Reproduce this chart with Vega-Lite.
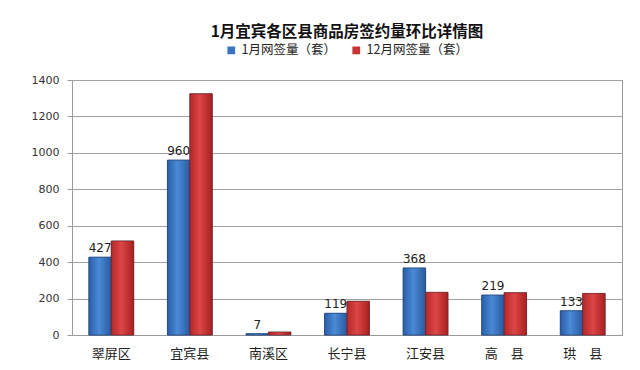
{
  "$schema": "https://vega.github.io/schema/vega-lite/v6.json",
  "width": 550,
  "height": 255,
  "autosize": {"type": "none"},
  "padding": {"left": 72, "top": 80, "right": 18, "bottom": 35},
  "background": "white",
  "title": {"text": "1月宜宾各区县商品房签约量环比详情图", "fontSize": 15.5, "fontWeight": "bold", "font": "Noto Sans CJK SC", "color": "#111111", "anchor": "middle", "offset": 4},
  "config": {
    "view": {"stroke": "#9a9a9a", "strokeWidth": 1},
    "font": "Noto Sans CJK SC"
  },
  "data": {"values": [
    {"区县": "翠屏区", "系列": "1月网签量（套）", "值": 427},
    {"区县": "翠屏区", "系列": "12月网签量（套）", "值": 516},
    {"区县": "宜宾县", "系列": "1月网签量（套）", "值": 960},
    {"区县": "宜宾县", "系列": "12月网签量（套）", "值": 1324},
    {"区县": "南溪区", "系列": "1月网签量（套）", "值": 7},
    {"区县": "南溪区", "系列": "12月网签量（套）", "值": 16},
    {"区县": "长宁县", "系列": "1月网签量（套）", "值": 119},
    {"区县": "长宁县", "系列": "12月网签量（套）", "值": 185},
    {"区县": "江安县", "系列": "1月网签量（套）", "值": 368},
    {"区县": "江安县", "系列": "12月网签量（套）", "值": 234},
    {"区县": "高　县", "系列": "1月网签量（套）", "值": 219},
    {"区县": "高　县", "系列": "12月网签量（套）", "值": 232},
    {"区县": "珙　县", "系列": "1月网签量（套）", "值": 133},
    {"区县": "珙　县", "系列": "12月网签量（套）", "值": 228}
  ]},
  "encoding": {
    "x": {"field": "区县", "type": "nominal", "sort": null,
      "scale": {"paddingInner": 0.43, "paddingOuter": 0.215},
      "axis": {"title": null, "labelAngle": 0, "labelFontSize": 13, "labelColor": "#222222", "labelPadding": 12, "ticks": false, "domainColor": "#9a9a9a"}},
    "y": {"field": "值", "type": "quantitative",
      "scale": {"domain": [0, 1400]},
      "axis": {"title": null, "format": "d", "values": [0,200,400,600,800,1000,1200,1400], "labelFontSize": 11, "labelColor": "#333333", "labelPadding": 8, "gridColor": "#a0a0a0", "domainColor": "#9a9a9a", "tickColor": "#9a9a9a", "tickSize": 5, "labelFont": "DejaVu Sans"}},
    "xOffset": {"field": "系列", "type": "nominal", "sort": ["1月网签量（套）", "12月网签量（套）"]}
  },
  "layer": [
    {
      "mark": {"type": "bar", "stroke": "#1d3f73", "strokeWidth": 0.6},
      "encoding": {
        "color": {"field": "系列", "type": "nominal", "sort": ["1月网签量（套）", "12月网签量（套）"],
          "scale": {"domain": ["1月网签量（套）", "12月网签量（套）"], "range": ["#3a74c4", "#cc3535"]},
          "legend": {"title": null, "orient": "none", "direction": "horizontal", "legendX": 153, "legendY": -36, "symbolType": "square", "symbolSize": 60, "labelFontSize": 12.5, "labelColor": "#222222", "columnPadding": 14, "symbolStrokeWidth": 0}}
      }
    },
    {
      "transform": [{"filter": "datum['系列'] === '1月网签量（套）'"}],
      "mark": {"type": "bar", "stroke": "#1c3f78", "strokeWidth": 0.6,
        "fill": {"gradient": "linear", "x1": 0, "y1": 0, "x2": 1, "y2": 0, "stops": [
          {"offset": 0, "color": "#2a5ea8"}, {"offset": 0.45, "color": "#4a8ad6"}, {"offset": 1, "color": "#2a5aa0"}]}}
    },
    {
      "transform": [{"filter": "datum['系列'] === '12月网签量（套）'"}],
      "mark": {"type": "bar", "stroke": "#7a1a1a", "strokeWidth": 0.6,
        "fill": {"gradient": "linear", "x1": 0, "y1": 0, "x2": 1, "y2": 0, "stops": [
          {"offset": 0, "color": "#b52828"}, {"offset": 0.45, "color": "#dc4646"}, {"offset": 1, "color": "#a82020"}]}}
    },
    {
      "transform": [{"filter": "datum['系列'] === '1月网签量（套）'"}],
      "mark": {"type": "text", "dy": -9, "fontSize": 12, "color": "#222222", "font": "DejaVu Sans"},
      "encoding": {"text": {"field": "值", "type": "quantitative"}}
    }
  ]
}
